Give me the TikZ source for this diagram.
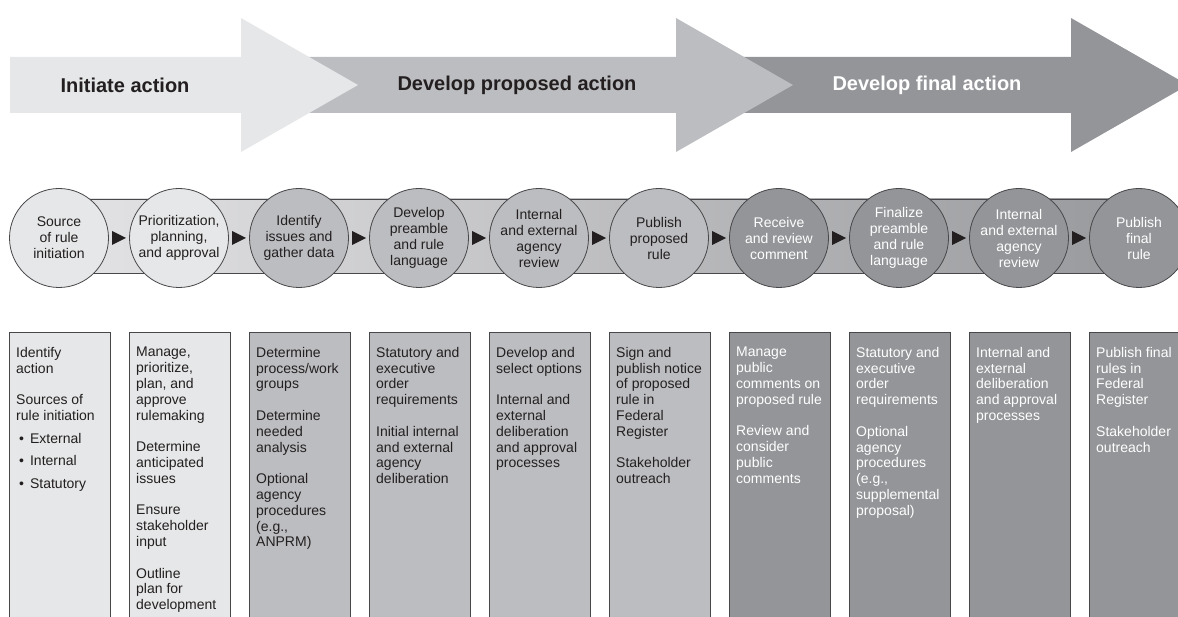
\documentclass[tikz,border=0pt]{standalone}
\usepackage{fontspec}
\setmainfont{Liberation Sans}
\usetikzlibrary{positioning, calc}
\definecolor{phaseA}{RGB}{230,231,232}
\definecolor{phaseB}{RGB}{188,189,192}
\definecolor{phaseC}{RGB}{147,149,152}
\definecolor{bandleft}{RGB}{228,228,230}
\definecolor{bandright}{RGB}{152,153,156}
\definecolor{inkcolor}{RGB}{35,31,32}
\definecolor{rimcolor}{RGB}{72,72,74}
\tikzset{
  phase/.style   = {font=\bfseries\fontsize{20}{24}\selectfont, text=inkcolor},
  stage/.style   = {circle, draw=rimcolor, line width=0.8pt, minimum size=99pt,
                    inner sep=0pt, align=center, font=\fontsize{14}{16}\selectfont},
  column/.style  = {rectangle, draw=rimcolor, line width=0.7pt, minimum width=101pt,
                    minimum height=300pt, anchor=north west, inner sep=0pt},
  coltext/.style = {anchor=north west, inner sep=0pt, align=left,
                    font=\fontsize{14}{15.8}\selectfont},
}
\newcommand{\gap}{\\[15.8pt]}
\newcommand{\bul}[1]{\hspace*{3pt}\textbullet\hspace{6pt}#1}

\begin{document}
\begin{tikzpicture}[x=1pt, y=-1pt]
  \useasboundingbox (0,0) rectangle (1178,617);
  \clip (0,0) rectangle (1178,617);
  % phase arrows, back to front
  \foreach \s/\h/\c in {740/1071/phaseC, 300/676/phaseB, 10/241/phaseA}
    \fill[\c] (\s,57) -- (\h,57) -- (\h,18) -- ({\h+117},85) -- (\h,152)
      -- (\h,113) -- (\s,113) -- cycle;
  \node[phase] (initiate) at (125,85) {Initiate action};
  \node[phase] (proposed) at (517,85) {Develop proposed action};
  \node[phase, text=white] (final) at (927,85) {Develop final action};

  % band behind the stages
  \shadedraw[left color=bandleft, right color=bandright, draw=rimcolor, line width=0.7pt]
    (59,199) rectangle (1139,273);

  % stages
  \foreach \n/\x/\fc/\tc/\txt in {
      1/59/phaseA/inkcolor/{Source\\of rule\\initiation},
      2/179/phaseA/inkcolor/{Prioritization,\\planning,\\and approval},
      3/299/phaseB/inkcolor/{Identify\\issues and\\gather data},
      4/419/phaseB/inkcolor/{Develop\\preamble\\and rule\\language},
      5/539/phaseB/inkcolor/{Internal\\and external\\agency\\review},
      6/659/phaseB/inkcolor/{Publish\\proposed\\rule},
      7/779/phaseC/white/{Receive\\and review\\comment},
      8/899/phaseC/white/{Finalize\\preamble\\and rule\\language},
      9/1019/phaseC/white/{Internal\\and external\\agency\\review},
      10/1139/phaseC/white/{Publish\\final\\rule}}
    \node[stage, fill=\fc, text=\tc] (s\n) at (\x,238) {\txt};

  % pointers between stages
  \foreach \a in {1,...,9} {
    \pgfmathtruncatemacro{\b}{\a+1}
    \path (s\a) -- (s\b) coordinate[midway] (m\a);
    \fill[inkcolor] ($(m\a)+(-7,-7)$) -- ++(0,14) -- ++(14,-7) -- cycle;
  }

  % detail columns
  \foreach \n/\x/\fc/\tc/\txt in {
      1/9/phaseA/inkcolor/{Identify\\action\gap Sources of\\rule initiation\\[6.8pt]
        \bul{External}\\[6.8pt]\bul{Internal}\\[6.8pt]\bul{Statutory}},
      2/129/phaseA/inkcolor/{Manage,\\prioritize,\\plan, and\\approve\\rulemaking\gap
        Determine\\anticipated\\issues\gap Ensure\\stakeholder\\input\gap
        Outline\\plan for\\development},
      3/249/phaseB/inkcolor/{Determine\\process/work\\groups\gap Determine\\needed\\analysis\gap
        Optional\\agency\\procedures\\(e.g.,\\ANPRM)},
      4/369/phaseB/inkcolor/{Statutory and\\executive\\order\\requirements\gap
        Initial internal\\and external\\agency\\deliberation},
      5/489/phaseB/inkcolor/{Develop and\\select options\gap Internal and\\external\\deliberation\\
        and approval\\processes},
      6/609/phaseB/inkcolor/{Sign and\\publish notice\\of proposed\\rule in\\Federal\\Register\gap
        Stakeholder\\outreach},
      7/729/phaseC/white/{Manage\\public\\comments on\\proposed rule\gap Review and\\consider\\
        public\\comments},
      8/849/phaseC/white/{Statutory and\\executive\\order\\requirements\gap Optional\\agency\\
        procedures\\(e.g.,\\supplemental\\proposal)},
      9/969/phaseC/white/{Internal and\\external\\deliberation\\and approval\\processes},
      10/1089/phaseC/white/{Publish final\\rules in\\Federal\\Register\gap Stakeholder\\outreach}} {
    \node[column, fill=\fc] (b\n) at (\x,332) {};
    \node[coltext, text=\tc] (t\n) at ($(b\n.north west)+(7,15)$) {\txt};
  }
\end{tikzpicture}
\end{document}
